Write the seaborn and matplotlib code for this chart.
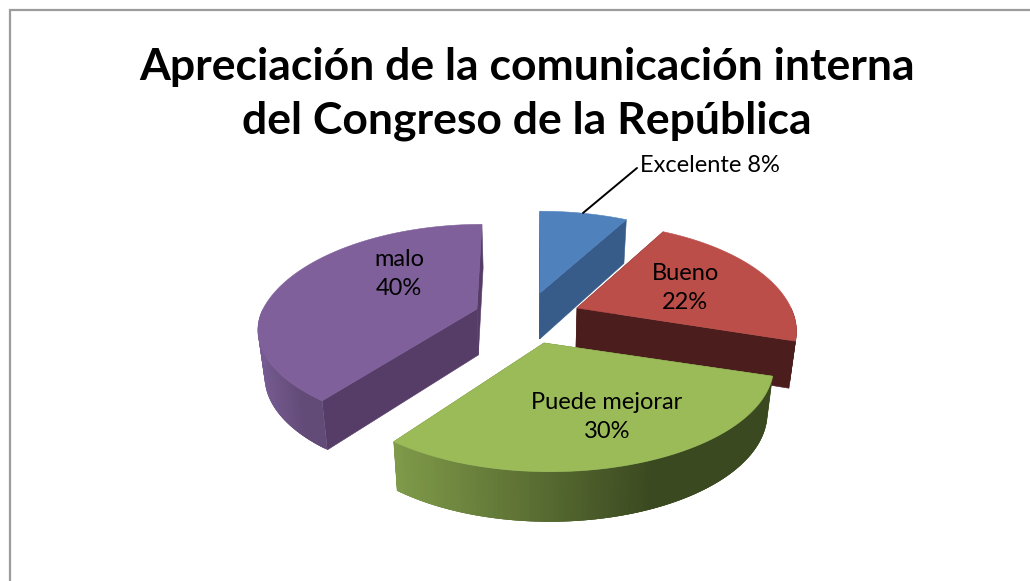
import numpy as np
import matplotlib
matplotlib.use("Agg")
import matplotlib.pyplot as plt
from matplotlib.patches import Polygon
import seaborn as sns

# Survey results
categories = ["Excelente", "Bueno", "Puede mejorar", "malo"]
shares = [8, 22, 30, 40]
title_lines = ["Apreciación de la comunicación interna", "del Congreso de la República"]

# Colours per slice: top face, cut face, outer wall left and right shades
top_colors = ["#4F81BD", "#BC4E4A", "#9BBB59", "#7F609B"]
cut_colors = ["#375C8A", "#4C1D1D", "#5F7A35", "#553D68"]
wall_light = ["#375C8A", "#4C1D1D", "#7F9A49", "#765C92"]
wall_dark = ["#375C8A", "#4C1D1D", "#3B4920", "#634B78"]

# Exploded position of each slice's apex on the canvas
apex_x = [540, 577, 544, 477]
apex_y = [293, 308, 343, 309]
arc_shift_x = [1, 0, 6, 0]
arc_scale_x = [1.0, 1.0, 1.018, 1.0]
front_scale_x = [1.0, 1.0, 1.0, 0.963]
front_scale_y = [1.0, 1.0, 1.0, 0.93]
back_scale_y = [1.0, 1.04, 1.0, 1.035]
vanish_k = [0.3, 0.0, 0.0, 0.6]
draw_order = [0, 3, 1, 2]

# Oblique projection of the pie disc
RX, RY, PERSP = 214, 100, 0.223
VANISH_X = 522
SHRINK_CX, SHRINK = 530, 0.975

sns.set_theme(style="white")
plt.rcParams["font.family"] = ["Lato", "DejaVu Sans"]

fig = plt.figure(figsize=(10.3, 5.81), dpi=100, facecolor="white")
ax = fig.add_axes([0, 0, 1, 1])
ax.set_xlim(0, 1030)
ax.set_ylim(581, 0)
ax.axis("off")

# Chart frame: only the left and top edges fall inside the canvas
ax.plot([9.5, 9.5, 1030], [581, 9.5, 9.5], color="#9C9C9C", lw=1.6, solid_joinstyle="miter")


def project(theta, i):
    """Map clock-wise angles (radians from 12 o'clock) on the disc to the canvas."""
    u = np.sin(theta)
    v = np.cos(theta)
    s = 1.0 / (1.0 + PERSP * v)
    behind = np.minimum(v, 0)
    fx = arc_scale_x[i] * (1 + (front_scale_x[i] - 1) * (-behind))
    fy = np.where(v < 0, front_scale_y[i], back_scale_y[i])
    ox, oy = apex_x[i] + arc_shift_x[i], apex_y[i]
    x = ox + RX * u * s * fx + (ox - VANISH_X) * (s - 1) * vanish_k[i]
    y = oy - RY * v * s * fy
    return x, y, s


def lower(x, y, s):
    """Drop a point of the top face onto the bottom face of the slab."""
    return SHRINK_CX + (x - SHRINK_CX) * SHRINK, y + 32 + 14 * s


edges = np.cumsum([0] + shares) / sum(shares) * 2 * np.pi

for i in draw_order:
    a0, a1 = edges[i], edges[i + 1]
    th = np.linspace(a0, a1, 240)
    x, y, s = project(th, i)
    xb, yb = lower(x, y, s)
    tipx, tipy = float(apex_x[i]), float(apex_y[i])
    tipbx, tipby = lower(tipx, tipy, 1.0)

    # Radial cut faces
    for k in (0, -1):
        ax.add_patch(Polygon([(tipx, tipy), (x[k], y[k]), (xb[k], yb[k]), (tipbx, tipby)],
                             closed=True, fc=cut_colors[i], ec=cut_colors[i], lw=0.4, zorder=2))

    # Outer wall on the side facing the viewer, shaded left to right.
    # Neighbouring strips overlap, so no seams show between them.
    front = (th > np.pi / 2) & (th < 3 * np.pi / 2)
    if front.sum() > 1:
        idx = np.where(front)[0]
        ramp = sns.blend_palette([wall_light[i], wall_dark[i]], 64)
        xmin, xmax = x[idx].min(), x[idx].max()
        # paint from the right end of the wall towards its left end
        order = idx if x[idx[0]] > x[idx[-1]] else idx[::-1]
        for j in range(len(order) - 1):
            p = order[j]
            q = order[min(j + 3, len(order) - 1)]
            t = (x[p] - xmin) / max(xmax - xmin, 1)
            col = ramp[int(np.clip(t / 0.68, 0, 1) * 63)]
            ax.add_patch(Polygon([(x[p], y[p]), (x[q], y[q]), (xb[q], yb[q]), (xb[p], yb[p])],
                                 closed=True, fc=col, ec="none", zorder=3 + j * 1e-4))

    # Top face
    pts = np.vstack([[tipx, tipy], np.column_stack([x, y])])
    ax.add_patch(Polygon(pts, closed=True, fc=top_colors[i], ec=top_colors[i], lw=0.4, zorder=4))

# Title
for line, ty in zip(title_lines, [67, 121]):
    ax.text(527, ty, line, ha="center", va="center", fontsize=32, fontweight="bold",
            color="black", zorder=6)

# Slice labels
ax.text(710, 165, f"{categories[0]} {shares[0]}%", ha="center", va="center",
        fontsize=17, color="black", zorder=6)
ax.plot([637, 583], [168, 213], color="black", lw=1.4, zorder=5)
ax.text(685, 288, f"{categories[1]}\n{shares[1]}%", ha="center", va="center",
        fontsize=17, color="black", linespacing=1.43, zorder=6)
ax.text(607, 417, f"{categories[2]}\n{shares[2]}%", ha="center", va="center",
        fontsize=17, color="black", linespacing=1.43, zorder=6)
ax.text(399, 274, f"{categories[3]}\n{shares[3]}%", ha="center", va="center",
        fontsize=17, color="black", linespacing=1.43, zorder=6)

fig.savefig("out.png", dpi=100)
